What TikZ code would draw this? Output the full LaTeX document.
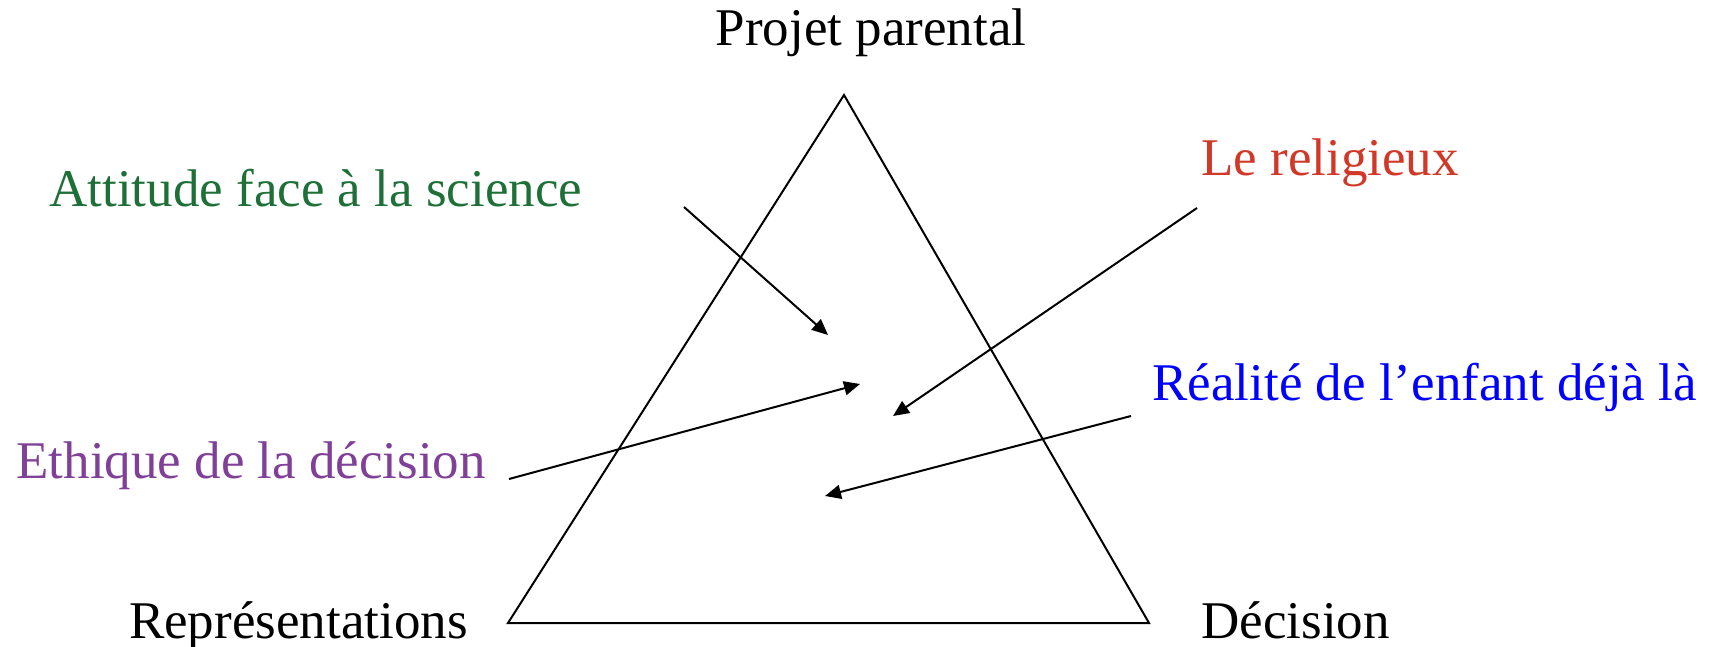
\documentclass[tikz,border=0pt]{standalone}
\usepackage{fontspec}
\setmainfont{Liberation Serif}
\usetikzlibrary{arrows.meta, positioning}
\definecolor{scigreen}{RGB}{30,112,56}
\definecolor{relred}{RGB}{208,56,40}
\definecolor{ethpurple}{RGB}{128,64,152}
\definecolor{realblue}{RGB}{0,0,255}

\begin{document}
\begin{tikzpicture}[
  x=0.5pt, y=-0.5pt,
  lbl/.style  = {inner sep=0pt, font=\fontsize{26.5}{30}\selectfont},
  edge/.style = {line width=1pt, line join=miter},
  arr/.style  = {-{Triangle[length=8pt,width=7pt]}, line width=1pt},
]
\useasboundingbox (0,0) rectangle (1717,647);

% triangle corners
\coordinate (top) at (844,95);
\coordinate (rep) at (508,623);
\coordinate (dec) at (1149,623);
\draw[edge] (top) -- (rep) -- (dec) -- cycle;

\node[lbl, anchor=base]      (projet)  at (871,46)   {Projet parental};
\node[lbl, anchor=base east] (repr)    at (468,638)  {Représentations};
\node[lbl, anchor=base west] (decis)   at (1201,638) {Décision};

% influences
\node[lbl, anchor=base west, text=scigreen]  (science)  at (49,206)   {Attitude face à la science};
\node[lbl, anchor=base west, text=relred]    (religion) at (1201,175) {Le religieux};
\node[lbl, anchor=base west, text=realblue]  (enfant)   at (1152,400) {Réalité de l’enfant déjà là};
\node[lbl, anchor=base west, text=ethpurple] (ethique)  at (16,478)   {Ethique de la décision};

\coordinate (science-s)  at (684,207);
\coordinate (science-e)  at (828,335);
\coordinate (ethique-s)  at (509,479);
\coordinate (ethique-e)  at (860,384);
\coordinate (religion-s) at (1197,208);
\coordinate (religion-e) at (893,416);
\coordinate (enfant-s)   at (1131,416);
\coordinate (enfant-e)   at (825,496);

\draw[arr] (science-s)  -- (science-e);
\draw[arr] (ethique-s)  -- (ethique-e);
\draw[arr] (religion-s) -- (religion-e);
\draw[arr] (enfant-s)   -- (enfant-e);

\end{tikzpicture}
\end{document}
